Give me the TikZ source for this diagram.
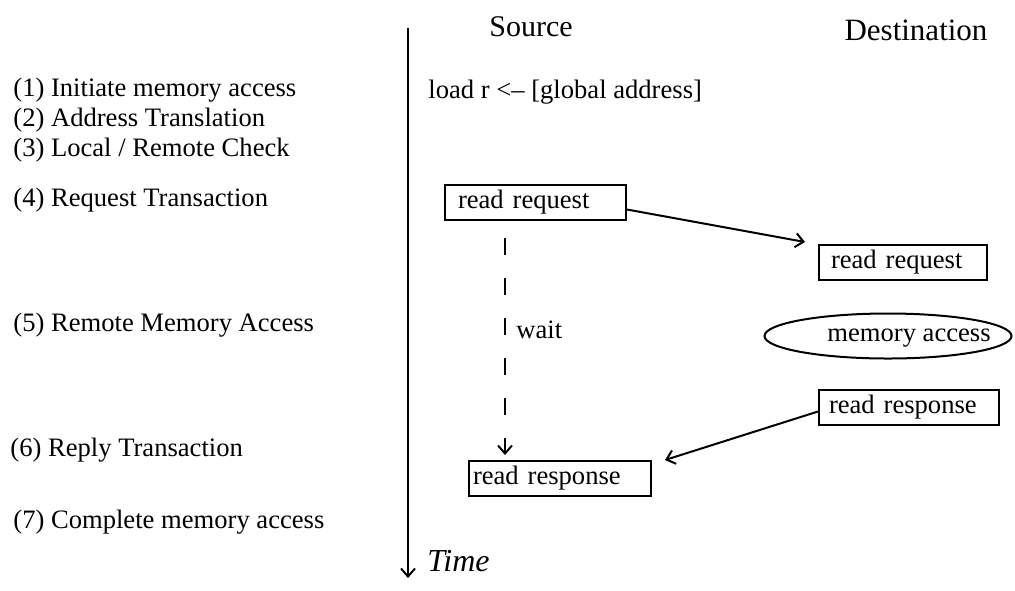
\documentclass[tikz,border=0pt]{standalone}
\usepackage{fontspec}
\setmainfont{Liberation Serif}
\usetikzlibrary{shapes.geometric, arrows.meta, positioning}

\begin{document}
\begin{tikzpicture}[x=0.5pt, y=-0.5pt, font=\fontsize{13.3}{16}\selectfont,
        msgbox/.style={draw, line width=1pt, inner xsep=6.5pt, inner ysep=0pt,
                       minimum height=17.5pt, align=left, anchor=west},
        steplabel/.style={anchor=west, inner sep=0pt},
        msgarrow/.style={line width=1pt, -{Straight Barb[length=4pt, width=7pt]}}]
    \useasboundingbox (0,0) rectangle (1015,590);
    % column headings
    \node[font=\fontsize{15}{18}\selectfont] (src) at (531,27) {Source};
    \node[font=\fontsize{15.5}{18}\selectfont] (dst) at (916,30) {Destination};
    % time axis
    \coordinate (ttop) at (408,28);
    \coordinate (tbot) at (408,578);
    \draw[msgarrow] (ttop) -- (tbot);
    \node[steplabel, font=\fontsize{16}{18}\itshape] (time) at (427,561) {Time};
    % steps of the access
    \node[steplabel] (s1) at (13,90)  {(1) Initiate memory access};
    \node[steplabel] (s2) at (13,120) {(2) Address Translation};
    \node[steplabel] (s3) at (13,150) {(3) Local / Remote Check};
    \node[steplabel] (s4) at (13,200) {(4) Request Transaction};
    \node[steplabel] (s5) at (13,325) {(5) Remote Memory Access};
    \node[steplabel] (s6) at (10,450) {(6) Reply Transaction};
    \node[steplabel] (s7) at (13,522) {(7) Complete memory access};
    % source side
    \node[steplabel] (load) at (428,92) {load r <– [global address]};
    \node[msgbox, text width=77.5pt] (srcreq) at (444,202.5) {read request};
    \node[msgbox, inner xsep=2pt, text width=87pt] (srcresp) at (468,478.5) {read response};
    % destination side
    \node[msgbox, inner xsep=6pt, text width=72pt] (dstreq) at (818,262.5) {read request};
    \node[draw, ellipse, line width=1pt, inner sep=0pt, minimum width=123.5pt,
          minimum height=22.5pt, label={[xshift=10.5pt, yshift=-1pt]center:memory access}]
          (mem) at (888,336) {};
    \node[msgbox, inner xsep=5pt, text width=80pt] (dstresp) at (818,407.5) {read response};
    % waiting for the reply
    \coordinate (wtop) at (505,238);
    \draw[msgarrow, dash pattern=on 8.5pt off 11.5pt, shorten >=2.5pt]
        (wtop) -- (wtop |- srcresp.north);
    \node[steplabel] (wait) at (516,330) {wait};
    % transactions
    \draw[msgarrow] ([yshift=-3.5pt]srcreq.east) -- ([xshift=-6.5pt, yshift=1pt]dstreq.north west);
    \draw[msgarrow] ([yshift=-2pt]dstresp.west) -- ([xshift=6.5pt]srcresp.north east);
\end{tikzpicture}
\end{document}
